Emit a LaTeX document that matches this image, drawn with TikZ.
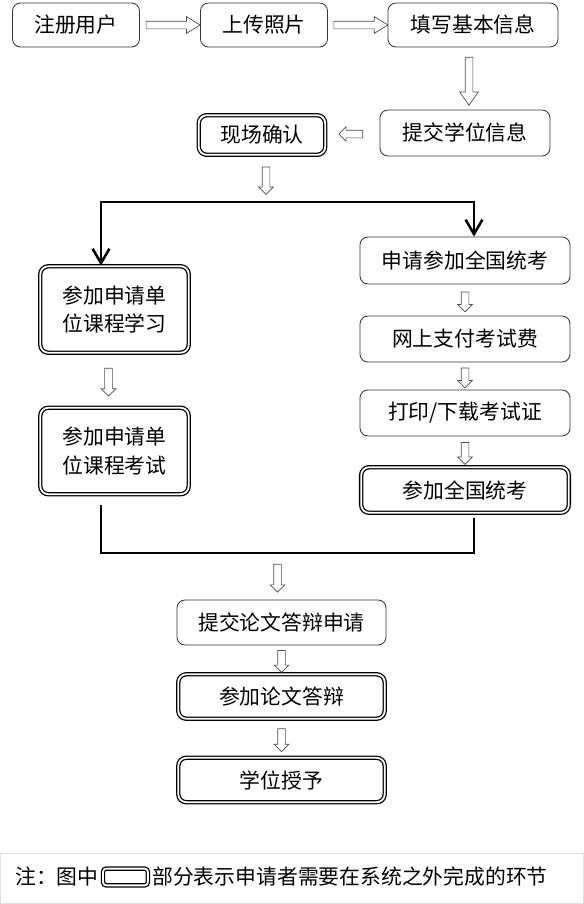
\documentclass[tikz,border=0pt]{standalone}
\usepackage{fontspec}
\newfontfamily\cjk{Noto Sans CJK SC}
\usetikzlibrary{positioning,calc,shapes.arrows,arrows.meta}
\newcommand\boxfont{\cjk\fontsize{14.8pt}{20pt}\selectfont}
\tikzset{
  box/.style={draw=black!80, line width=0.6pt, rounded corners=0.2cm, align=center, font=\boxfont, inner sep=0pt},
  offline/.style={box, draw=black, line width=0.9pt, double=white, double distance=1.3pt},
  hollow/.style={single arrow, draw=black!70, line width=0.5pt, fill=white, inner xsep=0pt},
  bigarrow/.style={hollow, inner ysep=0.0875cm, single arrow head extend=0.1125cm, single arrow tip angle=63},
  smallarrow/.style={hollow, inner ysep=0.0875cm, single arrow head extend=0.0875cm, single arrow tip angle=90, minimum height=0.6cm},
  flow/.style={line width=1.8pt, {Straight Barb[length=0.36cm,width=0.42cm]}-{Straight Barb[length=0.36cm,width=0.42cm]}},
  joinline/.style={line width=1.8pt}
}
\begin{document}
\begin{tikzpicture}[x=0.025cm,y=-0.025cm]
        \useasboundingbox (0,0) rectangle (584,904);
        \begin{scope}
            \node[box, minimum width=3.175cm, minimum height=1.1cm] (reg) at (76,25) {注册用户};
            \node[box, minimum width=3.175cm, minimum height=1.1cm] (photo) at (264,25) {上传照片};
            \node[box, minimum width=4.25cm, minimum height=1.1cm] (info) at (473,25) {填写基本信息};
            \node[box, minimum width=4.25cm, minimum height=1.15cm] (degree) at (465,133) {提交学位信息};
            \node[offline, minimum width=3.16cm, minimum height=0.99cm] (confirm) at (262,135) {现场确认};

            \node[bigarrow, minimum height=1.35cm] (a1) at ($(reg.east)!.5!(photo.west)$) {};
            \node[bigarrow, minimum height=1.35cm] (a2) at ($(photo.east)!.5!(info.west)$) {};
            \node[bigarrow, single arrow head extend=0.1375cm, single arrow tip angle=70, minimum height=1.2cm, rotate=-90] (a3) at ($(info.south)!.5!(degree.north)$) {};
            \node[smallarrow, rotate=180] (a4) at ($(confirm.east)!.5!(degree.west)$) {};
        \end{scope}
        \begin{scope}
            \coordinate (lt) at (101,202);
            \coordinate (rt) at (474,202);
            \coordinate (lb) at (101,553);
            \coordinate (rb) at (474,553);

            \node[offline, minimum width=3.71cm, minimum height=2.16cm] (study) at (114.5,309.5) {参加申请单\\位课程学习};
            \node[offline, minimum width=3.71cm, minimum height=2.16cm] (exam) at (114.5,451) {参加申请单\\位课程考试};

            \node[box, minimum width=5.25cm, minimum height=1.175cm] (apply) at (465,260.5) {申请参加全国统考};
            \node[box, minimum width=5.25cm, minimum height=1.15cm] (pay) at (465,339) {网上支付考试费};
            \node[box, minimum width=5.25cm, minimum height=1.15cm] (print) at (465,413) {打印/下载考试证};
            \node[offline, minimum width=5.19cm, minimum height=1.14cm] (nat) at (465,490) {参加全国统考};

            \node[smallarrow, minimum height=0.68cm, rotate=-90] (a5) at ($(confirm.south)!.5!(confirm.south |- lt)+(4,0)$) {};
            \node[smallarrow, minimum height=0.7cm, rotate=-90] (a6) at ($(study.south)!.5!(exam.north)+(-6,0)$) {};
            \node[smallarrow, minimum height=0.5cm, rotate=-90] (a7) at ($(apply.south)!.5!(pay.north)$) {};
            \node[smallarrow, minimum height=0.5cm, rotate=-90] (a8) at ($(pay.south)!.5!(print.north)$) {};
            \node[smallarrow, minimum height=0.55cm, rotate=-90] (a9) at ($(print.south)!.5!(nat.north)$) {};

            \draw[flow] (lt |- study.north) -- (lt) -- (rt) -- (rt |- apply.north);
            \draw[joinline] ($(exam.south -| lb)+(0,10)$) -- (lb) -- (rb) -- ($(nat.south -| rb)+(0,5)$);
        \end{scope}
        \begin{scope}
            \node[box, minimum width=5.225cm, minimum height=1.125cm] (submit) at (281.5,622.5) {提交论文答辩申请};
            \node[offline, minimum width=5.16cm, minimum height=1.11cm] (defend) at (281.5,696.5) {参加论文答辩};
            \node[offline, minimum width=5.16cm, minimum height=1.11cm] (award) at (281.5,780) {学位授予};

            \node[smallarrow, minimum height=0.7cm, rotate=-90] (a10) at ($(submit.north |- lb)!.5!(submit.north)+(-4,0)$) {};
            \node[smallarrow, minimum height=0.55cm, rotate=-90] (a11) at ($(submit.south)!.5!(defend.north)$) {};
            \node[smallarrow, minimum height=0.575cm, rotate=-90] (a12) at ($(defend.south)!.5!(award.north)$) {};
        \end{scope}
        \begin{scope}
            \draw[black!12, line width=0.7pt] (0.5,853) rectangle (583.5,903.5);
            \node[font=\boxfont, anchor=west, inner sep=0pt] (notea) at (15,877) {注：图中};
            \node[offline, minimum width=1.12cm, minimum height=0.42cm, rounded corners=0.08cm, right=0.09cm of notea] (legend) {};
            \node[font=\boxfont, inner sep=0pt, right=0.09cm of legend] (noteb) {部分表示申请者需要在系统之外完成的环节};
        \end{scope}
    \end{tikzpicture}
\end{document}
